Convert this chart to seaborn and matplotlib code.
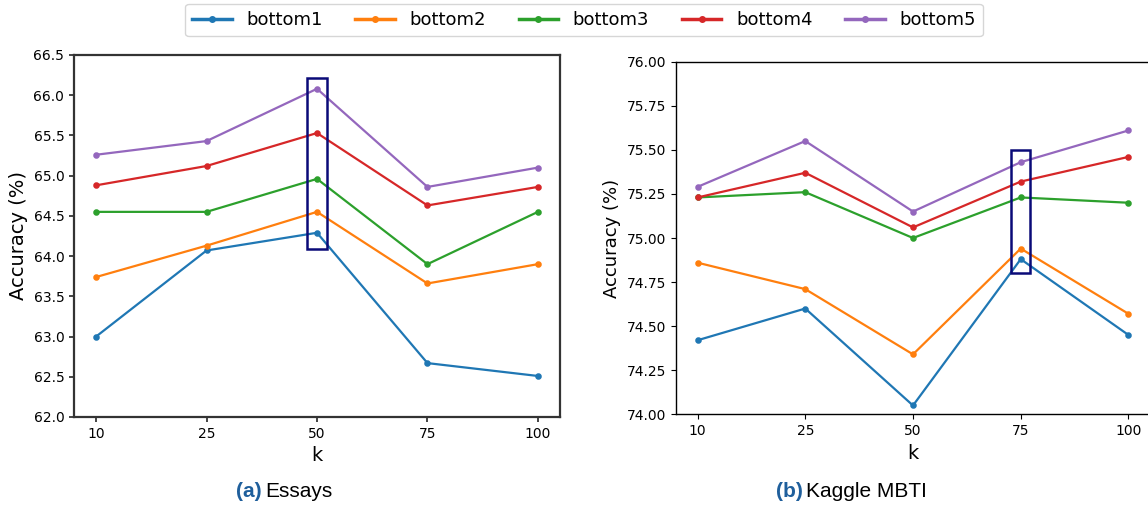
import pandas as pd
import matplotlib.pyplot as plt
import seaborn as sns
from matplotlib.patches import Rectangle

# --- data ---
k_values = ['10', '25', '50', '75', '100']
series_names = ['bottom1', 'bottom2', 'bottom3', 'bottom4', 'bottom5']

essays_b1 = [63.00, 64.07, 64.29, 62.67, 62.51]
essays_b2 = [63.74, 64.13, 64.55, 63.66, 63.90]
essays_b3 = [64.55, 64.55, 64.96, 63.90, 64.55]
essays_b4 = [64.88, 65.12, 65.53, 64.63, 64.86]
essays_b5 = [65.26, 65.43, 66.08, 64.86, 65.10]

mbti_b1 = [74.42, 74.60, 74.05, 74.88, 74.45]
mbti_b2 = [74.86, 74.71, 74.34, 74.94, 74.57]
mbti_b3 = [75.23, 75.26, 75.00, 75.23, 75.20]
mbti_b4 = [75.23, 75.37, 75.06, 75.32, 75.46]
mbti_b5 = [75.29, 75.55, 75.15, 75.43, 75.61]

# highlighted k and the y-span of the box
essays_box = ('50', 64.09, 66.22)
mbti_box = ('75', 74.80, 75.50)


def to_long(cols):
    rows = []
    for name, vals in zip(series_names, cols):
        for k, v in zip(k_values, vals):
            rows.append({'k': k, 'acc': v, 'series': name})
    return pd.DataFrame(rows)


essays = to_long([essays_b1, essays_b2, essays_b3, essays_b4, essays_b5])
mbti = to_long([mbti_b1, mbti_b2, mbti_b3, mbti_b4, mbti_b5])

palette = sns.color_palette('tab10', 5)

fig = plt.figure(figsize=(11.48, 5.07), dpi=100)
ax1 = fig.add_axes([74 / 1148, 1 - 417 / 507, 486 / 1148, 362 / 507])
ax2 = fig.add_axes([676 / 1148, 1 - 414.3 / 507, 474 / 1148, 352.6 / 507])


def draw(ax, df, box, ylim, yticks, fmt, spine_col, spine_w, label_size):
    sns.pointplot(data=df, x='k', y='acc', hue='series', order=k_values,
                  palette=palette, markers='o', markersize=3.5, linewidth=1.6,
                  errorbar=None, legend=False, ax=ax)
    ax.set_xlim(-0.2, 4.2)
    ax.set_ylim(*ylim)
    ax.set_yticks(yticks)
    ax.set_yticklabels([fmt.format(t) for t in yticks])
    ax.tick_params(labelsize=10, color=spine_col, width=spine_w * 0.8)
    for s in ax.spines.values():
        s.set_color(spine_col)
        s.set_linewidth(spine_w)
    ax.set_xlabel('k', fontsize=14)
    ax.set_ylabel('Accuracy (%)', fontsize=label_size)
    ax.grid(False)
    # highlight box around the chosen k
    xi = k_values.index(box[0])
    ax.add_patch(Rectangle((xi - 0.09, box[1]), 0.18, box[2] - box[1],
                           fill=False, edgecolor='#0a0a78', linewidth=1.8, zorder=5))


draw(ax1, essays, essays_box, (62.0, 66.5),
     [62.0 + 0.5 * i for i in range(10)], '{:.1f}', '#333333', 1.6, 14)
draw(ax2, mbti, mbti_box, (74.0, 76.0),
     [74.0 + 0.25 * i for i in range(9)], '{:.2f}', 'black', 1.0, 13)

handles = [plt.Line2D([], [], color=c, marker='o', markersize=4, linewidth=2.5)
           for c in palette]
fig.legend(handles, series_names, loc='center', ncol=5,
           bbox_to_anchor=(584 / 1148, 1 - 20 / 507), fontsize=13,
           handlelength=2.2, columnspacing=1.8, borderpad=0.4,
           frameon=True, fancybox=True)

cap_font = ['Liberation Sans', 'DejaVu Sans']
blue = '#1f5f9c'
base_y = 1 - 497 / 507
fig.text(236 / 1148, base_y, '(a)', color=blue, fontweight='bold',
         fontsize=15, family=cap_font, ha='left', va='baseline')
fig.text(265 / 1148, base_y, 'Essays', fontsize=15, family=cap_font,
         ha='left', va='baseline')
fig.text(776 / 1148, base_y, '(b)', color=blue, fontweight='bold',
         fontsize=15, family=cap_font, ha='left', va='baseline')
fig.text(806 / 1148, base_y, 'Kaggle MBTI', fontsize=15, family=cap_font,
         ha='left', va='baseline')

plt.savefig('out.png', dpi=100)
